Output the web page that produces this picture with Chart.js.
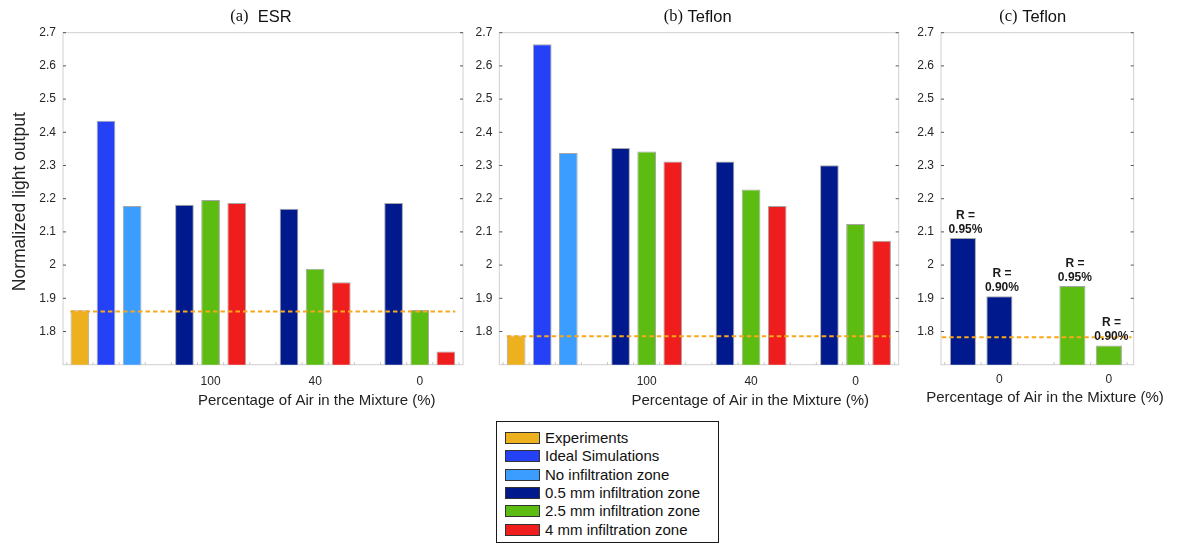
<!DOCTYPE html>
<html>
<head>
<meta charset="utf-8">
<script src="https://cdn.jsdelivr.net/npm/chart.js@4.4.1/dist/chart.umd.min.js"></script>
<style>
  html, body { margin: 0; padding: 0; background: #fff; }
  body { width: 1178px; height: 544px; position: relative; overflow: hidden;
         font-family: "Liberation Sans", Arial, sans-serif; }
  .panel { position: absolute; top: 0; height: 420px; }
  .panel canvas { display: block; }
  #legend { position: absolute; left: 496px; top: 421px; width: 223px; height: 122px;
            box-sizing: border-box; border: 1px solid #1a1a1a; background: #fff; }
  #legend .row { position: absolute; left: 0; right: 0; height: 18px; }
  #legend .sw { position: absolute; left: 8px; top: 3px; width: 33px; height: 10px;
                border: 1px solid #333; }
  #legend .lb { position: absolute; left: 48px; top: 0; line-height: 18px;
                font-size: 15px; color: #111; white-space: nowrap; }
</style>
</head>
<body>
<div class="panel" style="left:0;width:470px"><canvas id="chartEsr" width="470" height="420"></canvas></div>
<div class="panel" style="left:470px;width:435px"><canvas id="chartTeflon" width="435" height="420"></canvas></div>
<div class="panel" style="left:905px;width:273px"><canvas id="chartReflect" width="273" height="420"></canvas></div>
<div id="legend"></div>

<script>
// ---- data ----------------------------------------------------------------
const seriesNames = ['Experiments', 'Ideal Simulations', 'No infiltration zone',
  '0.5 mm infiltration zone', '2.5 mm infiltration zone', '4 mm infiltration zone'];
const seriesColors = ['#EDB120', '#2441F5', '#3A9DFF', '#001A8E', '#5CBC12', '#F01D1F'];

const airLabels = ['100', '40', '0'];               // % of air in the mixture
const yTickValues = [1.8, 1.9, 2.0, 2.1, 2.2, 2.3, 2.4, 2.5, 2.6, 2.7];

// (a) ESR
const esrExperiment = [1.864];
const esrIdeal = [2.435];
const esrNoInfiltration = [2.178];
const esrInfiltration05 = [2.182, 2.170, 2.187];
const esrInfiltration25 = [2.196, 1.989, 1.865];
const esrInfiltration4 = [2.187, 1.948, 1.740];
const esrExperimentLevel = 1.86;

// (b) Teflon
const teflonExperiment = [1.788];
const teflonIdeal = [2.665];
const teflonNoInfiltration = [2.338];
const teflonInfiltration05 = [2.353, 2.312, 2.301];
const teflonInfiltration25 = [2.342, 2.228, 2.124];
const teflonInfiltration4 = [2.312, 2.178, 2.073];
const teflonExperimentLevel = 1.786;

// (c) Teflon, 0 % air, two reflectivities
const reflectAirLabels = ['0', '0'];
const reflectivityLabels = ['0.95%', '0.90%'];
const reflectInfiltration05 = [2.082, 1.906];
const reflectInfiltration25 = [1.937, 1.758];
const reflectExperimentLevel = 1.783;

// ---- helpers -------------------------------------------------------------
const SANS = '"Liberation Sans", Arial, sans-serif';
const SERIF = '"Liberation Serif", "Times New Roman", serif';

function points(values, slots) {
  return values.map((v, i) => ({ x: slots[i], y: v }));
}

function barSet(seriesIndex, data) {
  return {
    type: 'bar',
    label: seriesNames[seriesIndex],
    data,
    backgroundColor: seriesColors[seriesIndex],
    borderColor: 'rgba(150,150,150,0.85)',
    borderWidth: 1,
    borderSkipped: 'start',
    grouped: false,
    categoryPercentage: 1,
    barPercentage: 0.715,
    order: 1
  };
}

function levelLine(level, from, to) {
  return {
    type: 'line',
    label: 'experiment level',
    data: [{ x: from, y: level }, { x: to, y: level }],
    borderColor: '#F7A81A',
    borderWidth: 2,
    borderDash: [4.5, 3],
    pointRadius: 0,
    fill: false,
    order: -1
  };
}

// frame, inward ticks, titles and bar annotations
const panelDecor = {
  id: 'panelDecor',
  beforeDatasetsDraw(chart, args, o) {
    const { ctx, chartArea: a, scales: { x, y } } = chart;
    ctx.save();
    ctx.lineWidth = 1;
    ctx.strokeStyle = '#d0d0d0';
    ctx.strokeRect(a.left, a.top, a.right - a.left, a.bottom - a.top);
    // slot separators along the bottom
    ctx.strokeStyle = '#c4c4c4';
    for (let k = Math.ceil(x.min - 0.5) + 0.5; k <= x.max; k += 1) {
      const px = x.getPixelForValue(k);
      ctx.beginPath(); ctx.moveTo(px, a.bottom); ctx.lineTo(px, a.bottom - 2.5); ctx.stroke();
    }
    // y ticks on both sides, pointing in
    ctx.strokeStyle = '#555';
    y.ticks.forEach(t => {
      const py = y.getPixelForValue(t.value);
      ctx.beginPath();
      ctx.moveTo(a.left, py); ctx.lineTo(a.left + 3, py);
      ctx.moveTo(a.right - 3, py); ctx.lineTo(a.right, py);
      ctx.stroke();
    });
    ctx.restore();
  },
  afterDatasetsDraw(chart, args, o) {
    if (!o.barLabels) return;
    const { ctx } = chart;
    ctx.save();
    ctx.fillStyle = '#1a1a1a';
    ctx.font = 'bold 12px ' + SANS;
    ctx.textAlign = 'center';
    ctx.textBaseline = 'middle';
    chart.data.datasets.forEach((ds, di) => {
      if (ds.type !== 'bar') return;
      chart.getDatasetMeta(di).data.forEach((el, j) => {
        ctx.fillText('R =', el.x + 2.5, el.y - 22.5);
        ctx.fillText(o.barLabels[j], el.x + 2.5, el.y - 8.5);
      });
    });
    ctx.restore();
  },
  afterDraw(chart, args, o) {
    const { ctx, chartArea: a } = chart;
    const cx = (a.left + a.right) / 2;
    ctx.save();
    ctx.fillStyle = '#111';
    ctx.textBaseline = 'middle';
    // panel title: serif tag + sans name
    ctx.font = o.titleSize + 'px ' + SERIF;
    const w1 = ctx.measureText(o.titleTag).width;
    ctx.font = o.titleSize + 'px ' + SANS;
    const w2 = ctx.measureText(o.titleText).width;
    let tx = cx + o.titleShift - (w1 + w2) / 2;
    ctx.textAlign = 'left';
    ctx.font = o.titleSize + 'px ' + SERIF;
    ctx.fillText(o.titleTag, tx, 17);
    ctx.font = o.titleSize + 'px ' + SANS;
    ctx.fillText(o.titleText, tx + w1, 17);
    // x axis title
    ctx.textAlign = 'center';
    ctx.fillStyle = '#222';
    ctx.font = '15px ' + SANS;
    ctx.fillText('Percentage of Air in the Mixture (%)', cx + o.xTitleShift, o.xTitleY);
    // y axis title
    if (o.yTitle) {
      ctx.translate(20.5, (a.top + a.bottom) / 2 + 3);
      ctx.rotate(-Math.PI / 2);
      ctx.font = '17.5px ' + SANS;
      ctx.fillText(o.yTitle, 0, 0);
    }
    ctx.restore();
  }
};

function makePanel(canvasId, cfg) {
  return new Chart(document.getElementById(canvasId), {
    type: 'bar',
    data: { datasets: cfg.datasets },
    plugins: [panelDecor],
    options: {
      responsive: false,
      animation: false,
      layout: { padding: { left: 0, right: cfg.padRight, top: 32.7, bottom: 0 } },
      plugins: {
        legend: { display: false },
        title: { display: false },
        tooltip: { enabled: false },
        panelDecor: cfg.decor
      },
      scales: {
        x: {
          type: 'linear',
          min: cfg.xMin,
          max: cfg.xMax,
          offset: false,
          grid: { display: false, drawTicks: false },
          border: { display: false },
          afterBuildTicks: s => { s.ticks = cfg.xTickSlots.map(v => ({ value: v })); },
          afterFit: s => { s.height = 55.3; },
          ticks: {
            autoSkip: false, maxRotation: 0, padding: cfg.xTickPad,
            color: '#262626', font: { family: SANS, size: 12 },
            callback: (v, i) => cfg.xTickLabels[i]
          }
        },
        y: {
          min: 1.7,
          max: 2.7,
          grid: { display: false, drawTicks: false },
          border: { display: false },
          afterBuildTicks: s => { s.ticks = yTickValues.map(v => ({ value: v })); },
          afterFit: s => { s.width = cfg.yWidth; },
          ticks: {
            padding: 7, color: '#262626', font: { family: SANS, size: 12 },
            callback: v => String(Math.round(v * 10) / 10)
          }
        }
      }
    }
  });
}

// bar slots: experiment, ideal, no-infiltration, then one group of three per air fraction
const groupSlots = k => airLabels.map((_, g) => 5 + 4 * g + k);

makePanel('chartEsr', {
  datasets: [
    levelLine(esrExperimentLevel, 0.64, 15.36),
    barSet(0, points(esrExperiment, [1])),
    barSet(1, points(esrIdeal, [2])),
    barSet(2, points(esrNoInfiltration, [3])),
    barSet(3, points(esrInfiltration05, groupSlots(0))),
    barSet(4, points(esrInfiltration25, groupSlots(1))),
    barSet(5, points(esrInfiltration4, groupSlots(2)))
  ],
  xMin: 0.355, xMax: 15.655, xTickSlots: groupSlots(1), xTickLabels: airLabels, xTickPad: 10,
  yWidth: 63, padRight: 7,
  decor: { titleTag: '(a)', titleText: '  ESR', titleSize: 16.5, titleShift: -2,
           xTitleShift: 53.7, xTitleY: 401, yTitle: 'Normalized light output' }
});

makePanel('chartTeflon', {
  datasets: [
    levelLine(teflonExperimentLevel, 0.64, 15.36),
    barSet(0, points(teflonExperiment, [1])),
    barSet(1, points(teflonIdeal, [2])),
    barSet(2, points(teflonNoInfiltration, [3])),
    barSet(3, points(teflonInfiltration05, groupSlots(0))),
    barSet(4, points(teflonInfiltration25, groupSlots(1))),
    barSet(5, points(teflonInfiltration4, groupSlots(2)))
  ],
  xMin: 0.355, xMax: 15.655, xTickSlots: groupSlots(1), xTickLabels: airLabels, xTickPad: 10,
  yWidth: 29.3, padRight: 6.3,
  decor: { titleTag: '(b)', titleText: ' Teflon', titleSize: 16.5, titleShift: -1.3,
           xTitleShift: 51.3, xTitleY: 401 }
});

makePanel('chartReflect', {
  datasets: [
    levelLine(reflectExperimentLevel, 0.42, 5.62),
    barSet(3, points(reflectInfiltration05, [1, 2])),
    barSet(4, points(reflectInfiltration25, [4, 5]))
  ],
  xMin: 0.4, xMax: 5.68, xTickSlots: [2, 5], xTickLabels: reflectAirLabels, xTickPad: 8,
  yWidth: 36, padRight: 44.3,
  decor: { titleTag: '(c)', titleText: ' Teflon', titleSize: 16.5, titleShift: -4.6,
           xTitleShift: 7.7, xTitleY: 398.3, barLabels: reflectivityLabels }
});

// legend box
const legend = document.getElementById('legend');
seriesNames.forEach((name, i) => {
  const row = document.createElement('div');
  row.className = 'row';
  row.style.top = (7 + i * 18.3) + 'px';
  const sw = document.createElement('div');
  sw.className = 'sw';
  sw.style.background = seriesColors[i];
  const lb = document.createElement('div');
  lb.className = 'lb';
  lb.textContent = name;
  row.appendChild(sw);
  row.appendChild(lb);
  legend.appendChild(row);
});
</script>
</body>
</html>
